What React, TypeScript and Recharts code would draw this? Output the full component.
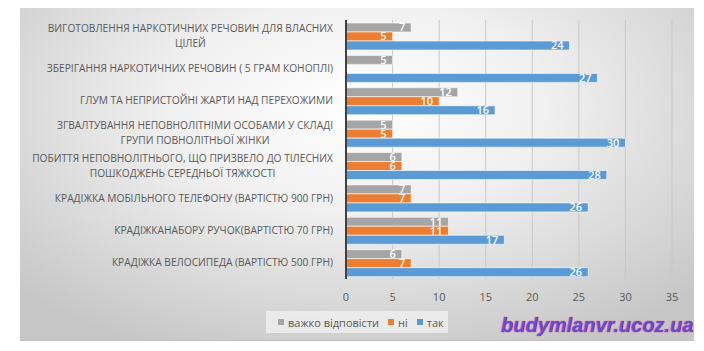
import React from "react";
import {
  BarChart,
  Bar,
  XAxis,
  YAxis,
  CartesianGrid,
  LabelList,
} from "recharts";

const categories = [
  "ВИГОТОВЛЕННЯ НАРКОТИЧНИХ РЕЧОВИН ДЛЯ ВЛАСНИХ\nЦІЛЕЙ",
  "ЗБЕРІГАННЯ НАРКОТИЧНИХ РЕЧОВИН ( 5 ГРАМ КОНОПЛІ)",
  "ГЛУМ ТА НЕПРИСТОЙНІ ЖАРТИ НАД ПЕРЕХОЖИМИ",
  "ЗГВАЛТУВАННЯ НЕПОВНОЛІТНІМИ ОСОБАМИ У СКЛАДІ\nГРУПИ ПОВНОЛІТНЬОЇ ЖІНКИ",
  "ПОБИТТЯ НЕПОВНОЛІТНЬОГО, ЩО ПРИЗВЕЛО ДО ТІЛЕСНИХ\nПОШКОДЖЕНЬ СЕРЕДНЬОЇ ТЯЖКОСТІ",
  "КРАДІЖКА МОБІЛЬНОГО ТЕЛЕФОНУ (ВАРТІСТЮ 900 ГРН)",
  "КРАДІЖКАНАБОРУ РУЧОК(ВАРТІСТЮ 70 ГРН)",
  "КРАДІЖКА ВЕЛОСИПЕДА (ВАРТІСТЮ 500 ГРН)",
];
const hard = [7, 5, 12, 5, 6, 7, 11, 6];
const no: (number | null)[] = [5, null, 10, 5, 6, 7, 11, 7];
const yes = [24, 27, 16, 30, 28, 26, 17, 26];
const xTicks = [0, 5, 10, 15, 20, 25, 30, 35];

const COLORS = { hard: "#A5A5A5", no: "#ED7D31", yes: "#5B9BD5" };

const data = categories.map((name, i) => ({
  name,
  hard: hard[i],
  no: no[i],
  yes: yes[i],
}));

const CategoryTick = ({ x, y, payload }: any) => {
  return (
    <foreignObject x={0} y={y - 20} width={x - 13} height={40}>
      <div
        style={{
          height: "100%",
          display: "flex",
          alignItems: "center",
          justifyContent: "flex-end",
        }}
      >
        <div
          style={{
            textAlign: "center",
            whiteSpace: "pre",
            fontFamily: "'Open Sans', sans-serif",
            fontSize: 10.2,
            lineHeight: "15px",
            color: "#595959",
          }}
        >
          {payload.value}
        </div>
      </div>
    </foreignObject>
  );
};

const labelStyle = {
  fill: "#ffffff",
  fontSize: 11,
  fontWeight: 600,
  fontFamily: "'Open Sans', sans-serif",
};

const legendItems = [
  { label: "важко відповісти", color: COLORS.hard },
  { label: "ні", color: COLORS.no },
  { label: "так", color: COLORS.yes },
];

export default function App() {
  return (
    <div style={{ position: "relative", width: 704, height: 351, margin: -8 }}>
      <div
        style={{
          position: "absolute",
          left: 20,
          top: 5,
          width: 674,
          height: 336,
          background:
            "radial-gradient(ellipse 70% 80% at 50% 30%, #ffffff 0%, #f0f0f0 40%, #c6c6c6 100%)",
          borderTop: "1px solid #c0c0c0",
          borderBottom: "1px solid #c0c0c0",
          boxSizing: "border-box",
        }}
      >
        <BarChart
          width={674}
          height={334}
          data={data}
          layout="vertical"
          margin={{ top: 14, right: 22, left: 0, bottom: 41 }}
          barGap={0}
          barSize={9}
        >
          <CartesianGrid horizontal={false} stroke="#c8c8c8" />
          <XAxis
            type="number"
            domain={[0, 35]}
            ticks={xTicks}
            axisLine={false}
            tickLine={false}
            height={20}
            tick={{ fill: "#595959", fontSize: 11, fontFamily: "'Open Sans', sans-serif" }}
            tickMargin={8}
          />
          <YAxis
            type="category"
            dataKey="name"
            width={326}
            axisLine={{ stroke: "#404040", strokeWidth: 2 }}
            tickLine={false}
            tickSize={0}
            tickMargin={0}
            interval={0}
            tick={<CategoryTick />}
          />
          <Bar dataKey="hard" fill={COLORS.hard} stroke="#ffffff" strokeOpacity={0.6} isAnimationActive={false}>
            <LabelList dataKey="hard" position="insideRight" offset={6} style={labelStyle} />
          </Bar>
          <Bar dataKey="no" fill={COLORS.no} stroke="#ffffff" strokeOpacity={0.6} isAnimationActive={false}>
            <LabelList dataKey="no" position="insideRight" offset={6} style={labelStyle} />
          </Bar>
          <Bar dataKey="yes" fill={COLORS.yes} stroke="#ffffff" strokeOpacity={0.6} isAnimationActive={false}>
            <LabelList dataKey="yes" position="insideRight" offset={6} style={labelStyle} />
          </Bar>
        </BarChart>
        <div
          style={{
            position: "absolute",
            left: 246,
            top: 305,
            width: 182,
            height: 22,
            background: "rgba(242,242,242,0.75)",
            display: "flex",
            alignItems: "center",
            paddingLeft: 12,
            boxSizing: "border-box",
            fontFamily: "'Open Sans', sans-serif",
            fontSize: 11,
            color: "#595959",
            whiteSpace: "nowrap",
          }}
        >
          {legendItems.map((it) => (
            <div key={it.label} style={{ display: "flex", alignItems: "center", marginRight: 9 }}>
              <span
                style={{
                  display: "inline-block",
                  width: 6,
                  height: 6,
                  background: it.color,
                  marginRight: 4,
                }}
              />
              {it.label}
            </div>
          ))}
        </div>
      </div>
      <div
        style={{
          position: "absolute",
          left: 501,
          top: 314,
          fontFamily: "'Liberation Sans', Arial, sans-serif",
          fontWeight: "bold",
          fontStyle: "italic",
          fontSize: 20,
          color: "#5e4ed8",
          textShadow: "0 0 1px #f0306a, 0 0 1px #f0306a",
        }}
      >
        budymlanvr.ucoz.ua
      </div>
    </div>
  );
}
